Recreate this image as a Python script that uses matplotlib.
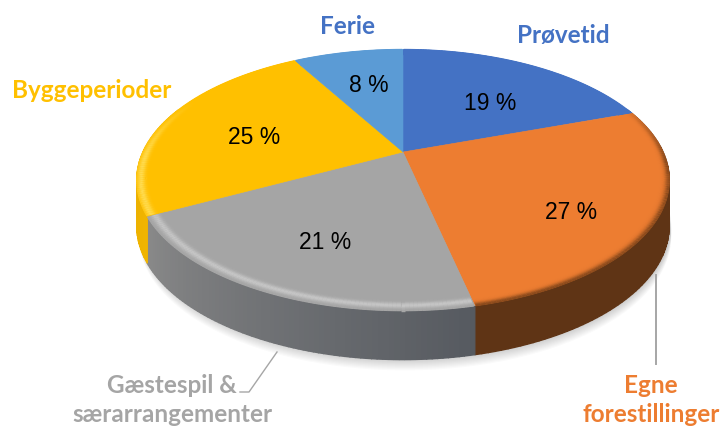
import numpy as np
import matplotlib
matplotlib.use("Agg")
import matplotlib.pyplot as plt
from matplotlib.colors import to_rgb
from matplotlib.collections import LineCollection

categories = ["Prøvetid", "Egne\nforestillinger", "Gæstespil &\nsærarrangementer", "Byggeperioder", "Ferie"]
shares = [19, 27, 21, 25, 8]
# slice sizes as they look on the tilted disc
slice_sizes = [19.6, 26.9, 20.8, 24.5, 8.2]
top_colors = ["#4472C4", "#ED7D31", "#A5A5A5", "#FFC000", "#5B9BD5"]
wall_left = ["#2f4f88", "#5f3415", "#8a8a8a", "#e0a800", "#3f6d96"]
wall_right = ["#2f4f88", "#5f3415", "#565a60", "#f0b400", "#3f6d96"]
rim_colors = ["#4472C4", "#8a4a1c", "#c6c6c6", "#ffdc50", "#5B9BD5"]
rim_peaks = [1.0, 1.0, 0.975, 0.985, 1.0]

CX, CY = 403, 153
R, RS, K = 260, 124.5, 0.215


def project(frac, r=1.0):
    a = 2 * np.pi * np.asarray(frac)
    u, v = r * np.sin(a), r * np.cos(a)
    w = 1 + K * v
    return CX + R * u / w, CY - RS * v / w


def depth(frac):
    return 45 + 4 * np.clip(-np.cos(2 * np.pi * np.asarray(frac)), 0, 1)


def mix(c1, c2, t):
    c1, c2 = np.array(to_rgb(c1)), np.array(to_rgb(c2))
    return tuple(c1 + (c2 - c1) * t)


fig = plt.figure(figsize=(7.23, 4.27), dpi=100)
ax = fig.add_axes([0, 0, 1, 1])
ax.set_xlim(0, 723)
ax.set_ylim(427, 0)
ax.axis("off")

# soft shadow below the disc
t = np.linspace(0, 1, 361)
ox, oy = project(t)
for i in range(10):
    ax.fill(ox + 2, oy + depth(t) + i * 1.2, color="#000000", alpha=0.02, lw=0, zorder=1)

edges = np.cumsum([0] + slice_sizes) / sum(slice_sizes)

# side wall, front part only
for s, (f0, f1) in enumerate(zip(edges[:-1], edges[1:])):
    ff = np.linspace(f0, f1, 80)
    for a, b in zip(ff[:-1], ff[1:]):
        if np.cos(2 * np.pi * a) > 0.35 and np.cos(2 * np.pi * b) > 0.35:
            continue
        xs, ys = project([a, b])
        col = mix(wall_right[s], wall_left[s], (a - f0) / (f1 - f0))
        ax.fill([xs[0], xs[1], xs[1], xs[0]],
                [ys[0], ys[1], ys[1] + depth(b), ys[0] + depth(a)],
                color=col, lw=1, ec=col, zorder=2)

# top faces
for s, (f0, f1) in enumerate(zip(edges[:-1], edges[1:])):
    xs, ys = project(np.linspace(f0, f1, 120))
    ax.fill(np.r_[CX, xs], np.r_[CY, ys], color=top_colors[s], lw=0.4, ec=top_colors[s], zorder=3)

# bevel along the outer edge, fades out towards the back
for s, (f0, f1) in enumerate(zip(edges[:-1], edges[1:])):
    ff = np.linspace(f0 + 0.0005, f1 - 0.0005, 100)
    front = np.clip((0.45 - np.cos(2 * np.pi * ff)) / 0.5, 0, 1)
    for r in np.arange(0.94, 1.0005, 0.004):
        xs, ys = project(ff, r)
        pts = np.column_stack([xs, ys])
        segs = np.stack([pts[:-1], pts[1:]], axis=1)
        amt = np.exp(-((r - rim_peaks[s]) / 0.014) ** 2) * front[:-1]
        cols = [mix(top_colors[s], rim_colors[s], m) for m in amt]
        ax.add_collection(LineCollection(segs, colors=cols, linewidths=1.0, zorder=3.5, capstyle="butt"))

# leader lines
ax.plot([277, 249, 240], [353, 393, 393], color="#a6a6a6", lw=1, zorder=4)
ax.plot([656, 656], [276, 365], color="#a6a6a6", lw=1.4, zorder=4)

pct_pos = [(490, 103), (571, 213), (325, 243), (254, 138), (369, 85)]
for val, (x, y) in zip(shares, pct_pos):
    ax.text(x, y, f"{val} %", ha="center", va="center", fontsize=16.5,
            family="Liberation Sans", color="black", zorder=5)

label_pos = [(563, 36), (651, 400), (172, 400), (92, 91), (348, 26)]
label_colors = ["#4472C4", "#ED7D31", "#A5A5A5", "#FFC000", "#4472C4"]
for name, (x, y), col in zip(categories, label_pos, label_colors):
    ax.text(x, y, name, ha="center", va="center", fontsize=17.5, family="Lato",
            weight="bold", color=col, linespacing=1.35, zorder=5)

fig.savefig("out.png", dpi=100)
